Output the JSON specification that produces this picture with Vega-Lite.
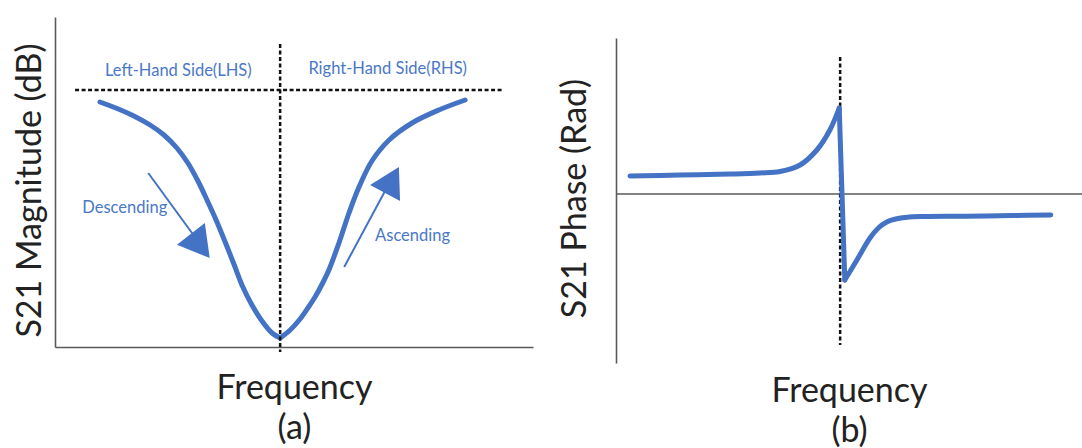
{
  "$schema": "https://vega.github.io/schema/vega-lite/v6.json",
  "background": "white",
  "padding": {"left": 13, "top": 17, "right": 0, "bottom": 0},
  "spacing": 25,
  "config": {
    "view": {"stroke": null},
    "font": "Lato",
    "axis": {
      "labels": false,
      "ticks": false,
      "grid": false,
      "domainColor": "#5a5a5a",
      "domainWidth": 1.6,
      "titleFont": "Lato",
      "titleFontSize": 34,
      "titleFontWeight": "normal",
      "titleColor": "#222222",
      "titleLineHeight": 40
    }
  },
  "datasets": {
    "magnitude": [
      {"side": "LHS", "frequency": 9.4, "s21_db": -8.5},
      {"side": "LHS", "frequency": 13.0, "s21_db": -9.15},
      {"side": "LHS", "frequency": 16.5, "s21_db": -9.9},
      {"side": "LHS", "frequency": 19.9, "s21_db": -10.8},
      {"side": "LHS", "frequency": 22.8, "s21_db": -11.8},
      {"side": "LHS", "frequency": 25.5, "s21_db": -13.1},
      {"side": "LHS", "frequency": 27.8, "s21_db": -14.6},
      {"side": "LHS", "frequency": 29.9, "s21_db": -16.4},
      {"side": "LHS", "frequency": 31.8, "s21_db": -18.3},
      {"side": "LHS", "frequency": 33.7, "s21_db": -20.3},
      {"side": "LHS", "frequency": 35.6, "s21_db": -22.5},
      {"side": "LHS", "frequency": 37.5, "s21_db": -24.8},
      {"side": "LHS", "frequency": 39.3, "s21_db": -27.0},
      {"side": "LHS", "frequency": 41.2, "s21_db": -28.8},
      {"side": "LHS", "frequency": 43.3, "s21_db": -30.4},
      {"side": "LHS", "frequency": 45.4, "s21_db": -31.6},
      {"side": "LHS", "frequency": 47.1, "s21_db": -32.1},
      {"side": "RHS", "frequency": 47.1, "s21_db": -32.1},
      {"side": "RHS", "frequency": 49.2, "s21_db": -31.3},
      {"side": "RHS", "frequency": 51.1, "s21_db": -30.3},
      {"side": "RHS", "frequency": 52.9, "s21_db": -29.1},
      {"side": "RHS", "frequency": 54.4, "s21_db": -28.0},
      {"side": "RHS", "frequency": 55.9, "s21_db": -26.7},
      {"side": "RHS", "frequency": 57.3, "s21_db": -25.3},
      {"side": "RHS", "frequency": 59.4, "s21_db": -22.6},
      {"side": "RHS", "frequency": 61.5, "s21_db": -19.6},
      {"side": "RHS", "frequency": 63.6, "s21_db": -17.0},
      {"side": "RHS", "frequency": 66.3, "s21_db": -14.4},
      {"side": "RHS", "frequency": 69.9, "s21_db": -12.3},
      {"side": "RHS", "frequency": 74.7, "s21_db": -10.6},
      {"side": "RHS", "frequency": 80.3, "s21_db": -9.3},
      {"side": "RHS", "frequency": 85.8, "s21_db": -8.3}
    ],
    "magnitude_guides": [
      {"frequency": 47.1, "frequency_end": 47.1, "s21_db": -2.7, "s21_db_end": -33.5},
      {"frequency": 4.2, "frequency_end": 93.5, "s21_db": -7.3, "s21_db_end": -7.3}
    ],
    "magnitude_arrows": [
      {"trend": "Descending", "frequency": 19.5, "frequency_end": 30.8, "s21_db": -15.6, "s21_db_end": -23.0},
      {"trend": "Ascending", "frequency": 60.5, "frequency_end": 69.5, "s21_db": -25.0, "s21_db_end": -17.0}
    ],
    "magnitude_heads": [
      {"trend": "Descending", "frequency": 30.4, "s21_db": -22.9},
      {"trend": "Ascending", "frequency": 70.5, "s21_db": -16.3}
    ],
    "magnitude_labels": [
      {"label": "Left-Hand Side(LHS)", "frequency": 25.8, "s21_db": -5.4},
      {"label": "Right-Hand Side(RHS)", "frequency": 69.6, "s21_db": -5.2},
      {"label": "Descending", "frequency": 14.6, "s21_db": -19.05},
      {"label": "Ascending", "frequency": 74.8, "s21_db": -21.9}
    ],
    "phase": [
      {"segment": "rise", "frequency": 3.0, "s21_rad": 0.18},
      {"segment": "rise", "frequency": 13.7, "s21_rad": 0.19},
      {"segment": "rise", "frequency": 24.5, "s21_rad": 0.2},
      {"segment": "rise", "frequency": 30.9, "s21_rad": 0.21},
      {"segment": "rise", "frequency": 35.2, "s21_rad": 0.225},
      {"segment": "rise", "frequency": 39.5, "s21_rad": 0.29},
      {"segment": "rise", "frequency": 43.1, "s21_rad": 0.44},
      {"segment": "rise", "frequency": 45.9, "s21_rad": 0.64},
      {"segment": "rise", "frequency": 47.9, "s21_rad": 0.86},
      {"segment": "jump", "frequency": 47.9, "s21_rad": 0.86},
      {"segment": "jump", "frequency": 49.1, "s21_rad": -0.86},
      {"segment": "recovery", "frequency": 49.1, "s21_rad": -0.86},
      {"segment": "recovery", "frequency": 51.7, "s21_rad": -0.66},
      {"segment": "recovery", "frequency": 54.5, "s21_rad": -0.44},
      {"segment": "recovery", "frequency": 56.3, "s21_rad": -0.34},
      {"segment": "recovery", "frequency": 58.1, "s21_rad": -0.28},
      {"segment": "recovery", "frequency": 60.0, "s21_rad": -0.25},
      {"segment": "recovery", "frequency": 62.5, "s21_rad": -0.232},
      {"segment": "recovery", "frequency": 66.0, "s21_rad": -0.225},
      {"segment": "recovery", "frequency": 75.0, "s21_rad": -0.222},
      {"segment": "recovery", "frequency": 85.0, "s21_rad": -0.215},
      {"segment": "recovery", "frequency": 93.3, "s21_rad": -0.21}
    ],
    "phase_guides": [
      {"kind": "resonance", "frequency": 48.1, "frequency_end": 48.1, "s21_rad": 1.37, "s21_rad_end": -1.51}
    ],
    "phase_zero": [
      {"frequency": 0, "frequency_end": 100, "s21_rad": 0, "s21_rad_end": 0}
    ]
  },
  "hconcat": [
    {
      "width": 478,
      "height": 330,
      "layer": [
        {
          "data": {"name": "magnitude"},
          "mark": {"type": "line", "color": "#4472C4", "strokeWidth": 5, "interpolate": "catmull-rom", "strokeCap": "round", "strokeJoin": "round"},
          "encoding": {
            "x": {
              "field": "frequency", "type": "quantitative",
              "scale": {"domain": [0, 100], "nice": false, "zero": false},
              "axis": {"title": ["Frequency", "(a)"], "titlePadding": 24}
            },
            "y": {
              "field": "s21_db", "type": "quantitative",
              "scale": {"domain": [-33, 0], "nice": false, "zero": false},
              "axis": {"title": "S21 Magnitude (dB)", "titlePadding": 8, "titleY": 173}
            },
            "detail": {"field": "side"},
            "order": {"field": "frequency"}
          }
        },
        {
          "data": {"name": "magnitude_guides"},
          "mark": {"type": "rule", "color": "#111111", "strokeWidth": 2.5, "strokeDash": [4, 2.5]},
          "encoding": {
            "x": {"field": "frequency", "type": "quantitative"},
            "x2": {"field": "frequency_end"},
            "y": {"field": "s21_db", "type": "quantitative"},
            "y2": {"field": "s21_db_end"}
          }
        },
        {
          "data": {"name": "magnitude_arrows"},
          "mark": {"type": "rule", "color": "#4472C4", "strokeWidth": 2},
          "encoding": {
            "x": {"field": "frequency", "type": "quantitative"},
            "x2": {"field": "frequency_end"},
            "y": {"field": "s21_db", "type": "quantitative"},
            "y2": {"field": "s21_db_end"}
          }
        },
        {
          "data": {"name": "magnitude_heads"},
          "transform": [{"filter": "datum.trend === 'Descending'"}],
          "mark": {"type": "point", "shape": "triangle-up", "size": 1250, "angle": 142, "filled": true, "opacity": 1, "color": "#4472C4"},
          "encoding": {
            "x": {"field": "frequency", "type": "quantitative"},
            "y": {"field": "s21_db", "type": "quantitative"}
          }
        },
        {
          "data": {"name": "magnitude_heads"},
          "transform": [{"filter": "datum.trend === 'Ascending'"}],
          "mark": {"type": "point", "shape": "triangle-up", "size": 1150, "angle": 28, "filled": true, "opacity": 1, "color": "#4472C4"},
          "encoding": {
            "x": {"field": "frequency", "type": "quantitative"},
            "y": {"field": "s21_db", "type": "quantitative"}
          }
        },
        {
          "data": {"name": "magnitude_labels"},
          "mark": {"type": "text", "font": "Lato", "fontSize": 16.5, "color": "#4a78c8", "align": "center", "baseline": "middle"},
          "encoding": {
            "x": {"field": "frequency", "type": "quantitative"},
            "y": {"field": "s21_db", "type": "quantitative"},
            "text": {"field": "label"}
          }
        }
      ]
    },
    {
      "width": 466,
      "height": 346,
      "layer": [
        {
          "data": {"name": "phase_zero"},
          "mark": {"type": "rule", "color": "#5a5a5a", "strokeWidth": 1.6},
          "encoding": {
            "x": {
              "field": "frequency", "type": "quantitative",
              "scale": {"domain": [0, 100], "nice": false, "zero": false},
              "axis": {"title": ["Frequency", "(b)"], "titlePadding": 11, "domain": false}
            },
            "x2": {"field": "frequency_end"},
            "y": {
              "field": "s21_rad", "type": "quantitative",
              "scale": {"domain": [-1.69, 1.56], "range": [346, 21], "nice": false, "zero": false},
              "axis": {"title": "S21 Phase (Rad)", "titlePadding": 24, "titleY": 181}
            },
            "y2": {"field": "s21_rad_end"}
          }
        },
        {
          "data": {"name": "phase_guides"},
          "mark": {"type": "rule", "color": "#111111", "strokeWidth": 2.5, "strokeDash": [4, 2.5]},
          "encoding": {
            "x": {"field": "frequency", "type": "quantitative"},
            "x2": {"field": "frequency_end"},
            "y": {"field": "s21_rad", "type": "quantitative"},
            "y2": {"field": "s21_rad_end"}
          }
        },
        {
          "data": {"name": "phase"},
          "mark": {"type": "line", "color": "#4472C4", "strokeWidth": 5, "interpolate": "catmull-rom", "strokeCap": "round", "strokeJoin": "round"},
          "encoding": {
            "x": {"field": "frequency", "type": "quantitative"},
            "y": {"field": "s21_rad", "type": "quantitative"},
            "detail": {"field": "segment"},
            "order": {"field": "frequency"}
          }
        }
      ]
    }
  ]
}
